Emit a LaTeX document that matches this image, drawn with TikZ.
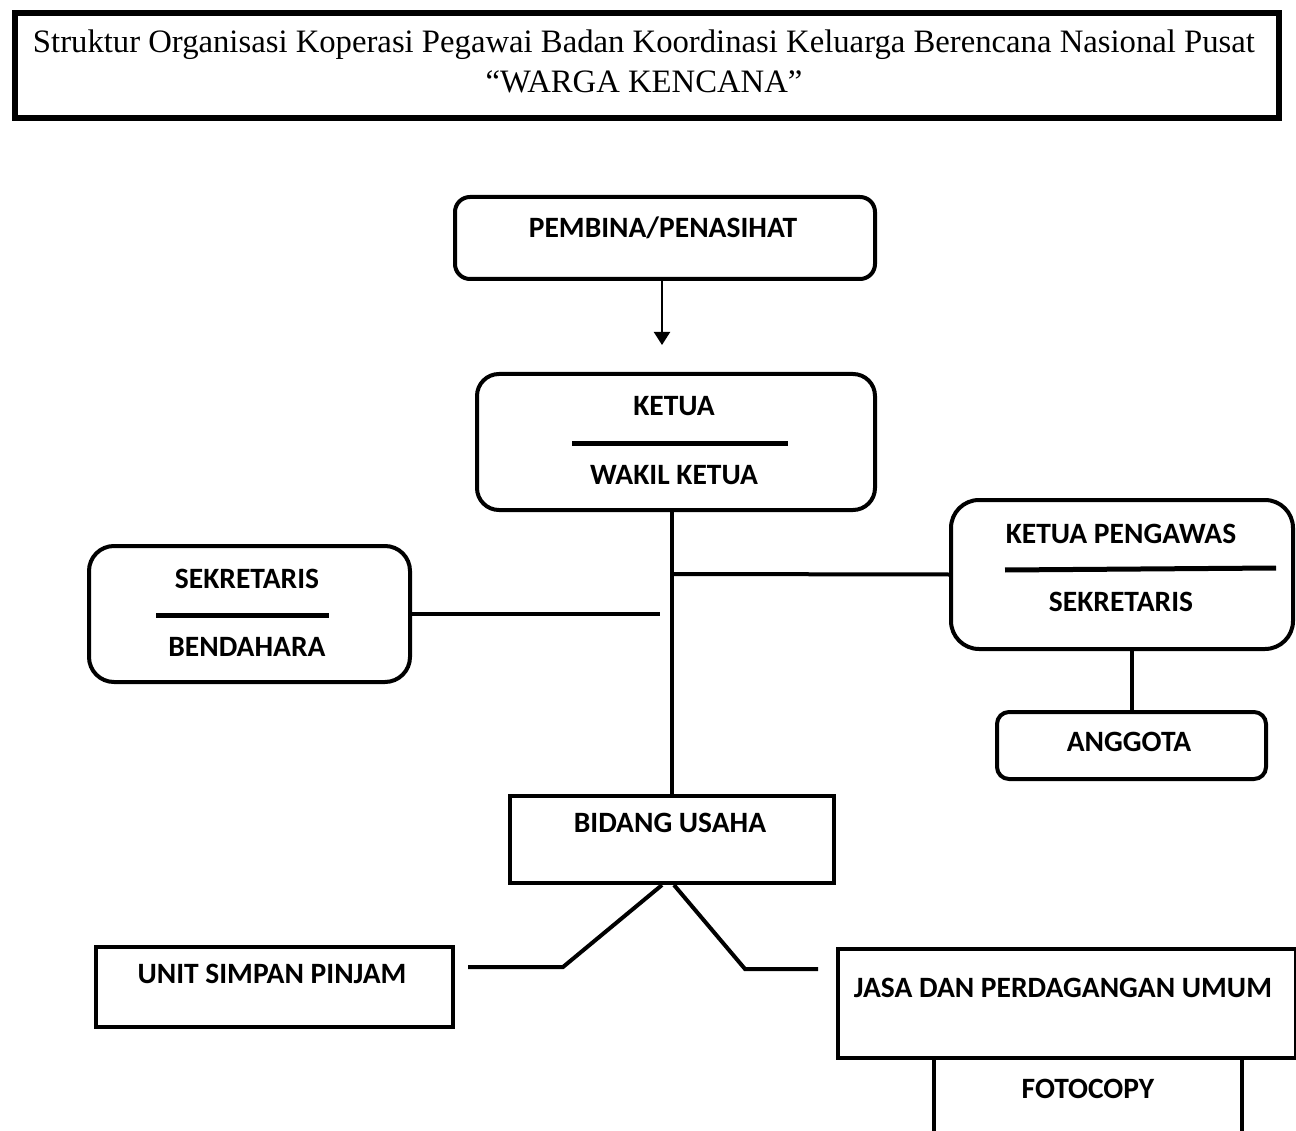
\documentclass[tikz,border=0pt]{standalone}
\usepackage{fontspec}
\setmainfont{Liberation Serif}
\newfontfamily\labfont{Carlito}
\usetikzlibrary{arrows.meta}
\begin{document}
\begin{tikzpicture}[x=1pt,y=-1pt,
  lab/.style={font=\labfont\bfseries\fontsize{29.5}{33}\selectfont, anchor=base, inner sep=0pt},
  ttl/.style={font=\fontsize{32.7}{36}\selectfont, anchor=base, inner sep=0pt},
  rbox/.style={draw, line width=4pt, rounded corners=#1, inner sep=0pt, anchor=north west},
  sbox/.style={draw, line width=4pt, inner sep=0pt, anchor=north west},
  conn/.style={line width=4pt},
  divline/.style={line width=5pt},
  arr/.style={line width=2pt, -{Triangle[length=13pt,width=16pt]}}]
\useasboundingbox (0,0) rectangle (1296,1131);
% title
\node[draw, line width=6pt, minimum width=1264pt, minimum height=105pt, anchor=north west, inner sep=0pt] (title) at (12,10) {};
\node[ttl] (t1) at (644,53) {Struktur Organisasi Koperasi Pegawai Badan Koordinasi Keluarga Berencana Nasional Pusat};
\node[ttl] (t2) at (644,93) {“WARGA KENCANA”};
% boxes
\node[rbox=15pt, minimum width=420pt, minimum height=82pt] (pemb) at (453,195) {};
\node[rbox=22pt, minimum width=398pt, minimum height=136pt] (ketua) at (475,372) {};
\node[rbox=25pt, minimum width=321pt, minimum height=136pt] (sekr) at (87,544) {};
\node[rbox=28pt, minimum width=342pt, minimum height=149pt] (kp) at (949,498) {};
\node[rbox=12pt, minimum width=269pt, minimum height=67pt] (angg) at (995,710) {};
\node[sbox, minimum width=324pt, minimum height=87pt] (bidang) at (508,794) {};
\node[sbox, minimum width=357pt, minimum height=80pt] (unit) at (94,945) {};
\node[sbox, minimum width=458pt, minimum height=109pt] (jasa) at (836,947) {};
% texts
\node[lab] (tpemb) at (663,238) {PEMBINA/PENASIHAT};
\node[lab] (tketua) at (674,416) {KETUA};
\node[lab] (twakil) at (674,484) {WAKIL KETUA};
\node[lab] (tsekr) at (247,588) {SEKRETARIS};
\node[lab] (tbend) at (247,656) {BENDAHARA};
\node[lab] (tkp) at (1121,543) {KETUA PENGAWAS};
\node[lab] (tkps) at (1121,611) {SEKRETARIS};
\node[lab] (tangg) at (1129,751) {ANGGOTA};
\node[lab] (tbid) at (670,832) {BIDANG USAHA};
\node[lab] (tunit) at (272,983) {UNIT SIMPAN PINJAM};
\node[lab] (tjasa) at (1063,997) {JASA DAN PERDAGANGAN UMUM};
\node[lab] (tfoto) at (1088,1098) {FOTOCOPY};
% dividers
\draw[divline] (572,443) -- (788,443);
\draw[divline] (156,615) -- (329,615);
\draw[divline] (1005,570) -- (1276,568);
% connectors
\draw[arr] ([xshift=-3pt]pemb.south) -- ++(0,64);
\draw[conn] (bidang.north |- ketua.south) -- (bidang.north);
\coordinate (sj) at (660,615);
\draw[conn] (sekr.east) -- (sekr.east -| sj);
\coordinate (kj) at (670,574);
\draw[conn] (kj) -- (kp.west);
\draw[conn] (angg.north |- kp.south) -- (angg.north);
\coordinate (ul) at (468,967);
\coordinate (ur) at (818,969);
\draw[conn] ([xshift=-10pt]bidang.south) -- (563,967) -- (ul);
\draw[conn] ([xshift=2pt]bidang.south) -- (745,969) -- (ur);
\coordinate (fl) at (934,1131);
\coordinate (fr) at (1242,1131);
\draw[conn] (jasa.south -| fl) -- (fl);
\draw[conn] (jasa.south -| fr) -- (fr);
\end{tikzpicture}
\end{document}
